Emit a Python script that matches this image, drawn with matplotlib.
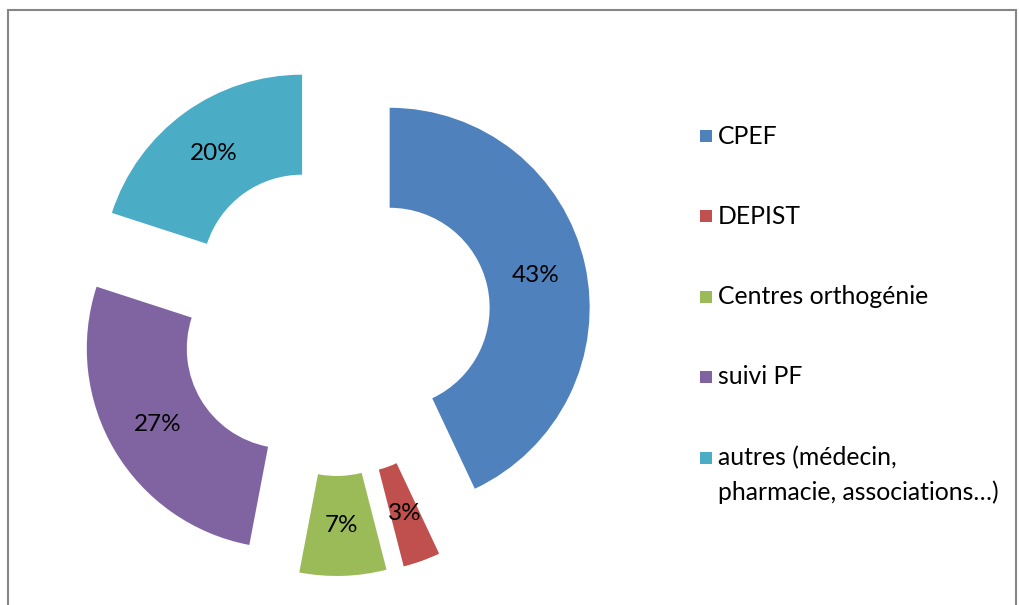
import matplotlib.pyplot as plt
from matplotlib.patches import Rectangle

categories = ["CPEF", "DEPIST", "Centres orthogénie", "suivi PF",
              "autres (médecin,\npharmacie, associations…)"]
values = [43, 3, 7, 27, 20]
colors = ["#4F81BD", "#C0504D", "#9BBB59", "#8064A2", "#4BACC6"]

plt.rcParams['font.family'] = ['Lato', 'DejaVu Sans']

W, H = 1019, 605
fig = plt.figure(figsize=(W / 100, H / 100), dpi=100)
ax = fig.add_axes([0, 0, 1, 1])

# pixel-like data coords (y up)
ax.pie(values, colors=colors, radius=200, center=(335, H - 320),
       startangle=90, counterclock=False, explode=[56] * len(values),
       wedgeprops=dict(width=100, linewidth=0),
       autopct='%1.0f%%', pctdistance=0.75,
       textprops=dict(fontsize=17.5, color='black'))

ax.set_xlim(0, W)
ax.set_ylim(0, H)
ax.set_aspect('equal')
ax.axis('off')

# chart border (bottom edge is cut off)
ax.add_patch(Rectangle((8, -20), 1008, H - 10 + 20, fill=False,
                       edgecolor='#868686', linewidth=1.5))

# legend
ys = [136, 216, 297, 377, 458]
for lab, c, y in zip(categories, colors, ys):
    ax.add_patch(Rectangle((700, H - y - 6), 12, 12, color=c, linewidth=0))
    for i, line in enumerate(lab.split('\n')):
        ax.text(718, H - y - i * 34, line, fontsize=17.8, va='center', ha='left')

fig.savefig("out.png", dpi=100)
